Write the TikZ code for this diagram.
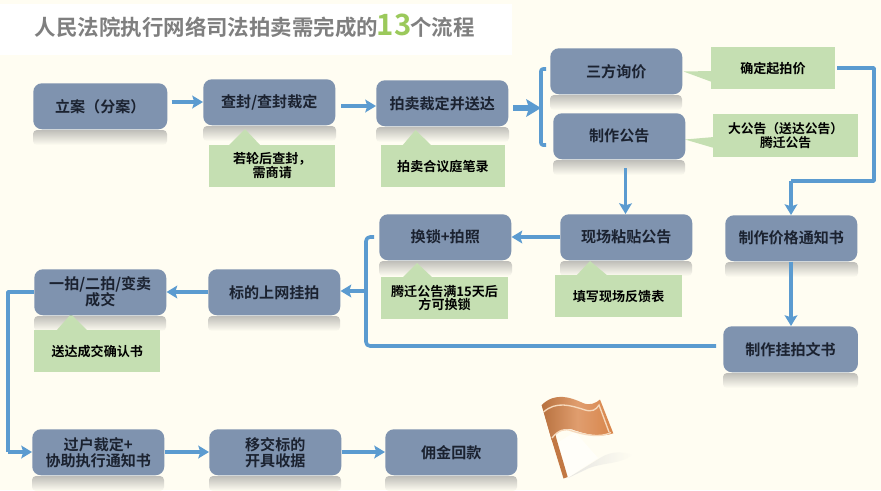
\documentclass[tikz,border=0pt]{standalone}
\usepackage{fontspec}
\setmainfont{Noto Sans CJK SC}[BoldFont={Noto Sans CJK SC Bold}]
\usetikzlibrary{arrows.meta}
\definecolor{bgc}{HTML}{FFFDF2}
\definecolor{boxc}{HTML}{7F93AF}
\definecolor{greenc}{HTML}{C5DFB2}
\definecolor{linec}{HTML}{5B9BD0}
\definecolor{txtc}{HTML}{1B2230}
\definecolor{titlec}{HTML}{7F7F7F}
\definecolor{numc}{HTML}{9BC95B}
\definecolor{flagc}{HTML}{D8854A}
\definecolor{flagd}{HTML}{B5652E}
\definecolor{flagl}{HTML}{F6D9BC}
\tikzset{
  procbox/.style={fill=boxc,rounded corners=6.5pt,minimum width=99pt,minimum height=34.5pt,inner sep=0pt,
    font=\bfseries\fontsize{11.3}{12}\selectfont,text=txtc,align=center,anchor=north west},
  callbox/.style={fill=greenc,inner sep=0pt,font=\bfseries\fontsize{9.8}{10.5}\selectfont,text=black,align=center,anchor=north west},
  calltip/.style={fill=greenc},
  flow/.style={draw=linec,line width=2.7pt,-{Stealth[length=8pt,width=9.5pt,inset=1.5pt]}},
  flowplain/.style={draw=linec,line width=2.7pt,line join=round},
}
\newcommand{\shine}[3]{%
  \shade[top color=gray!50!bgc,bottom color=bgc,rounded corners=3pt] (#1,#2+1) rectangle ++(#3,15);}
\begin{document}
\begin{tikzpicture}[x=0.75pt,y=-0.75pt]
\useasboundingbox (0,0) rectangle (881,490);
\fill[bgc] (0,0) rectangle (881,490);
\fill[white] (0,4) rectangle (512,55);
\node[anchor=west,inner sep=0pt,text=titlec,font=\bfseries\fontsize{16.1}{18}\selectfont] (title) at (34.5,26)
  {人民法院执行网络司法拍卖需完成的{\fontsize{22}{24}\selectfont\color{numc}\kern-1pt 13\kern-1pt}个流程};
% reflections
\shine{33}{129}{134}
\shine{203}{125}{133}
\shine{376}{126}{133}
\shine{550}{94}{132}
\shine{553}{159}{132}
\shine{725}{261}{133}
\shine{560}{260}{132}
\shine{379}{260}{133}
\shine{208}{315}{132}
\shine{34}{315}{132}
\shine{723}{372}{135}
\shine{32}{475}{132}
\shine{209}{475}{132}
\shine{385}{475}{132}
% callouts
\fill[calltip] (229,145) -- (245,129) -- (260,145) -- cycle;
\node[callbox,minimum width=94.5pt,minimum height=31.5pt] (c1) at (209,144.5) {若轮后查封，\\需商请};
\fill[calltip] (402,146) -- (415.5,130) -- (432,146) -- cycle;
\node[callbox,minimum width=92.5pt,minimum height=31.5pt] (c2) at (381,145) {拍卖合议庭笔录};
\fill[calltip] (683.5,71.5) -- (712,71) -- (712,82) -- cycle;
\node[callbox,minimum width=92.5pt,minimum height=31.5pt] (c3) at (711,47) {确定起拍价};
\fill[calltip] (685,139.5) -- (714,137) -- (714,148) -- cycle;
\node[callbox,minimum width=108.5pt,minimum height=32pt,font=\bfseries\fontsize{9.6}{8.5}\selectfont] (c4) at (713,114) {大公告（送达公告）\\腾迁公告};
\fill[calltip] (402,278) -- (417,263) -- (433,278) -- cycle;
\node[callbox,minimum width=95pt,minimum height=31.5pt,font=\bfseries\fontsize{9.8}{10}\selectfont] (c5) at (381,277) {腾迁公告满15天后\\方可换锁};
\fill[calltip] (576,276) -- (590,261) -- (608,276) -- cycle;
\node[callbox,minimum width=95pt,minimum height=31.5pt] (c6) at (555,275) {填写现场反馈表};
\fill[calltip] (56,331) -- (71,314) -- (88,331) -- cycle;
\node[callbox,minimum width=94.5pt,minimum height=31.5pt] (c7) at (34,330) {送达成交确认书};
% boxes
\node[procbox,minimum width=100.5pt] (b1) at (33,83) {立案（分案）};
\node[procbox] (b2) at (203,79) {查封/查封裁定};
\node[procbox] (b3) at (376,80) {拍卖裁定并送达};
\node[procbox] (b4) at (550,48) {三方询价};
\node[procbox] (b5) at (553,113) {制作公告};
\node[procbox] (b6) at (725,215) {制作价格通知书};
\node[procbox] (b7) at (560,214) {现场粘贴公告};
\node[procbox] (b8) at (379,214) {换锁+拍照};
\node[procbox] (b9) at (208,269) {标的上网挂拍};
\node[procbox] (b10) at (34,269) {一拍/二拍/变卖\\成交};
\node[procbox,minimum width=101pt] (b11) at (723,326) {制作挂拍文书};
\node[procbox] (b12) at (32,429) {过户裁定+\\协助执行通知书};
\node[procbox] (b13) at (209,429) {移交标的\\开具收据};
\node[procbox] (b14) at (385,429) {佣金回款};
% connector anchors
\coordinate (k1) at (541,69);
\coordinate (k2) at (541,145);
\coordinate (r1) at (874,68);
\coordinate (r2) at (874,181);
\coordinate (r3) at (791,181);
\coordinate (m1) at (366,237);
\coordinate (m2) at (366,346);
\coordinate (d1) at (8,292);
\coordinate (d2) at (8,452);
% connectors
\draw[flow] ([xshift=3pt]b1.east |- 0,102) -- (b2.west |- 0,102);
\draw[flow] (341,106) -- (b3.west |- 0,106);
\draw[draw=linec,line width=3.8pt,-{Stealth[length=11pt,width=13pt,inset=2pt]}] (513,108) -- (541,108);
\draw[flowplain,rounded corners=1.5pt] (546,69) -- (k1) -- (k2) -- (546,145);
\draw[flowplain] (837,68) -- (r1) -- (r2) -- (r3);
\draw[flow] (r3) -- (b6.north -| r3);
\draw[flow] (625.5,168) -- (b7.north -| 625.5,0);
\draw[flow] (b7.west |- 0,237) -- (b8.east |- 0,237);
\draw[flow] (b6.south -| 791,0) -- (b11.north -| 791,0);
\draw[flowplain,rounded corners=3pt] (716,346) -- (m2) -- (m1) -- (374,237);
\draw[flow] (m1 |- 0,291) -- (b9.east |- 0,291);
\draw[flow] (b9.west |- 0,292) -- (b10.east |- 0,292);
\draw[flowplain] (b10.west |- 0,292) -- (d1) -- (d2);
\draw[flow] (d2) -- (b12.west |- 0,452);
\draw[flow] (b12.east |- 0,452) -- (b13.west |- 0,452);
\draw[flow] (b13.east |- 0,452) -- (b14.west |- 0,452);
% flag
\fill[white,opacity=.6] (557,443) -- (567,478) -- (598,458) -- (575,432) -- cycle;
\shade[left color=black!14,right color=bgc,opacity=.7] (585,470) -- (568,478) -- (600,458) .. controls (612,450) and (625,452) .. (632,455) .. controls (620,465) and (600,462) .. cycle;
\fill[flagc!90!black] (541.7,405) -- (551.7,440) -- (563.5,478.5) -- (567.7,477) -- (556.5,439) -- (548,405) -- cycle;
\shade[left color=flagc!85!black,right color=flagc,middle color=flagc!80!white]
  (541.7,405) .. controls (555,392) and (570,397) .. (583,403) .. controls (590,406) and (596,403) .. (600,399.5)
  -- (613.3,433.3) .. controls (600,438) and (585,434) .. (571.7,429.3) .. controls (562,427) and (556,433) .. (551.7,440) -- cycle;
\draw[flagl,line width=1pt] (543.5,412) .. controls (556,401) and (570,405) .. (585,410) .. controls (592,412) and (596,410) .. (599,405)
  -- (609,432);
\draw[flagl,line width=1pt] (552,438) .. controls (558,430) and (565,428) .. (572,431) .. controls (585,435) and (600,438) .. (611,432.5);
\end{tikzpicture}
\end{document}
